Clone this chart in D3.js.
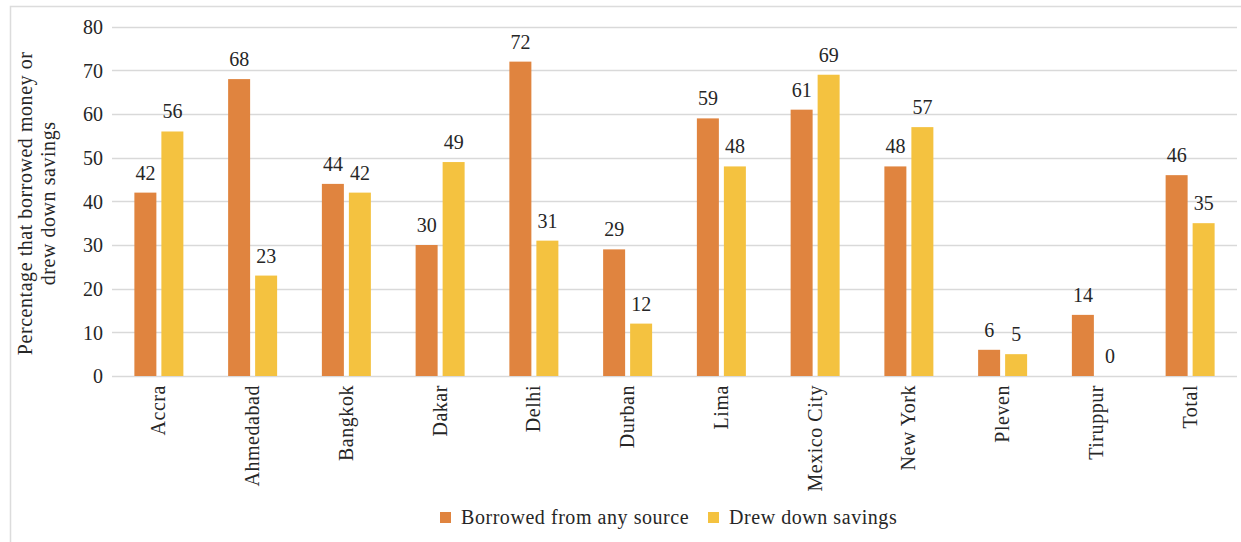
<!DOCTYPE html>
<html>
<head>
<meta charset="utf-8">
<script src="https://cdn.jsdelivr.net/npm/d3@7"></script>
<style>
  html, body { margin: 0; padding: 0; background: #fff; }
  svg text { font-family: "Liberation Serif", "DejaVu Serif", serif; fill: #262626; }
</style>
</head>
<body>
<svg id="chart" width="1241" height="542"></svg>
<script>
// Cities surveyed and the share of households using each coping strategy
const cities = ["Accra", "Ahmedabad", "Bangkok", "Dakar", "Delhi", "Durban", "Lima",
  "Mexico City", "New York", "Pleven", "Tiruppur", "Total"];
const borrowed = [42, 68, 44, 30, 72, 29, 59, 61, 48, 6, 14, 46];
const drewSavings = [56, 23, 42, 49, 31, 12, 48, 69, 57, 5, 0, 35];
const seriesNames = ["Borrowed from any source", "Drew down savings"];
const yTicks = [0, 10, 20, 30, 40, 50, 60, 70, 80];
const yTitle = ["Percentage that borrowed money or", "drew down savings"];

const colors = ["#E0843F", "#F4C240"];
const series = [borrowed, drewSavings];

const FS = 20;        // base font size
const WORD_LS = 0.55; // letter spacing for word labels

const svg = d3.select("#chart");
const W = 1241, H = 542;

// outer frame
svg.append("rect")
  .attr("x", 10.5).attr("y", 6.5)
  .attr("width", W).attr("height", H)
  .attr("fill", "none").attr("stroke", "#dcdcdc").attr("stroke-width", 1.5);

const plot = { left: 112, right: 1237, top: 26.7, bottom: 376 };

const x = d3.scaleBand().domain(cities).range([plot.left, plot.right]);
const y = d3.scaleLinear().domain([0, 80]).range([plot.bottom, plot.top]);

// gridlines
svg.append("g").selectAll("line").data(yTicks).join("line")
  .attr("x1", plot.left).attr("x2", plot.right)
  .attr("y1", d => Math.round(y(d)) + 0.5).attr("y2", d => Math.round(y(d)) + 0.5)
  .attr("stroke", "#d9d9d9").attr("stroke-width", 1.3);

// y axis labels
const yAxis = d3.axisLeft(y).tickValues(yTicks).tickSize(0).tickPadding(9);
const gy = svg.append("g").attr("transform", `translate(${plot.left},0)`).call(yAxis);
gy.select(".domain").remove();
gy.selectAll("text").attr("font-size", FS).attr("font-family", "Liberation Serif, serif")
  .attr("fill", "#262626").attr("dy", "0.34em");

// y title
const yt = svg.append("text")
  .attr("transform", `translate(0,${(plot.top + plot.bottom) / 2 + 2}) rotate(-90)`)
  .attr("text-anchor", "middle").attr("font-size", FS)
  .attr("letter-spacing", WORD_LS);
yTitle.forEach((line, i) => {
  yt.append("tspan").attr("x", 0).attr("y", i === 0 ? 32 : 55).text(line);
});

// bars
const barW = 22, gap = 5;
const groups = svg.append("g").selectAll("g").data(cities).join("g")
  .attr("transform", d => `translate(${x(d) + x.bandwidth() / 2},0)`);

series.forEach((vals, s) => {
  const offset = s === 0 ? -(barW + gap / 2) : gap / 2;
  groups.append("rect")
    .attr("x", offset)
    .attr("width", barW)
    .attr("y", (d, i) => y(vals[i]))
    .attr("height", (d, i) => y(0) - y(vals[i]))
    .attr("fill", colors[s]);
  groups.append("text")
    .attr("x", offset + barW / 2)
    .attr("y", (d, i) => y(vals[i]) - 13)
    .attr("text-anchor", "middle")
    .attr("font-size", FS)
    .text((d, i) => vals[i]);
});

// x axis labels (rotated)
const xAxis = d3.axisBottom(x).tickSize(0).tickPadding(0);
const gx = svg.append("g").attr("transform", `translate(0,${plot.bottom})`).call(xAxis);
gx.select(".domain").remove();
gx.selectAll("text")
  .attr("font-size", FS).attr("font-family", "Liberation Serif, serif").attr("fill", "#262626")
  .attr("letter-spacing", WORD_LS)
  .attr("transform", "rotate(-90)")
  .attr("x", -9).attr("y", 0).attr("dy", "0.33em")
  .attr("text-anchor", "end");

// legend
const legend = svg.append("g").attr("transform", "translate(440,512)");
seriesNames.forEach((name, i) => {
  const item = legend.append("g").attr("transform", `translate(${i === 0 ? 0 : 268},0)`);
  item.append("rect").attr("width", 11).attr("height", 11).attr("fill", colors[i]);
  item.append("text").attr("x", 21).attr("y", 11.5).attr("font-size", FS)
    .attr("letter-spacing", WORD_LS).text(name);
});
</script>
</body>
</html>
